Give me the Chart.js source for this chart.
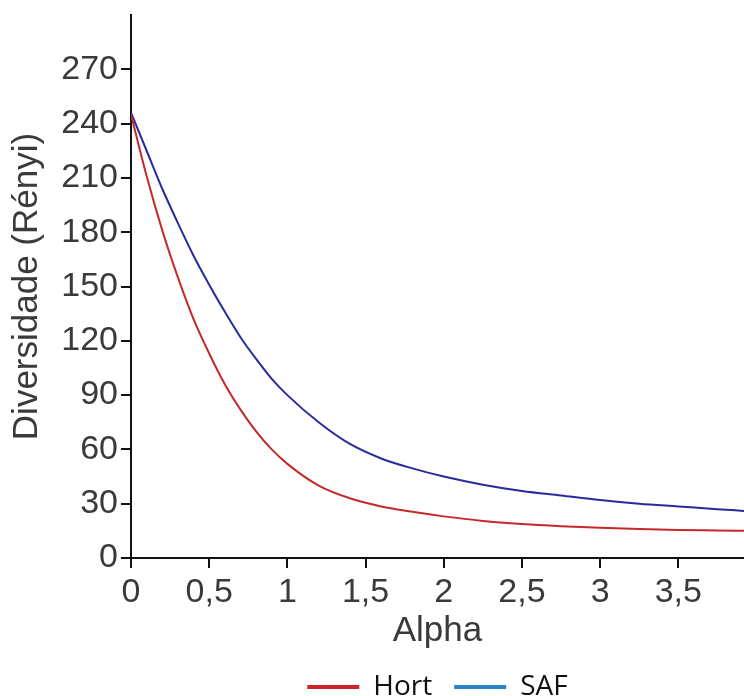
<!DOCTYPE html>
<html>
<head>
<meta charset="utf-8">
<script src="https://cdn.jsdelivr.net/npm/chart.js@4"></script>
<style>
  html, body { margin: 0; padding: 0; background: #fff; }
  #wrap { width: 744px; height: 696px; }
</style>
</head>
<body>
<div id="wrap"><canvas id="c" width="744" height="696"></canvas></div>
<script>
const alphaValues = [0, 0.1, 0.2, 0.3, 0.4, 0.5, 0.6, 0.7, 0.8, 0.9, 1.0, 1.2, 1.4, 1.6, 1.8, 2.0, 2.25, 2.5, 2.75, 3.0, 3.25, 3.5, 3.75, 3.92];
const hortValues  = [245, 211, 181, 155, 132, 113, 96, 82, 70, 60, 52, 40, 33, 28.5, 25.5, 23, 20.5, 18.8, 17.6, 16.7, 16, 15.5, 15.2, 15];
const safValues   = [246, 225, 204, 185, 167, 151, 136, 122, 110, 99, 90, 75, 63, 55, 49.5, 45, 40.5, 37, 34.5, 32, 30, 28.5, 27, 26];
const seriesNames = ['Hort', 'SAF'];
const xTickValues = [0, 0.5, 1, 1.5, 2, 2.5, 3, 3.5];
const yTickValues = [0, 30, 60, 90, 120, 150, 180, 210, 240, 270];
const xTitle = 'Alpha';
const yTitle = 'Diversidade (Rényi)';

const lineColors = ['#c42a2a', '#2a2a9e'];
const legendColors = ['#d0222c', '#2a82c4'];

const toPoints = (vals) => vals.map((v, i) => ({ x: alphaValues[i], y: v }));

const tickFont = { family: 'Liberation Sans, Arial, sans-serif', size: 34 };
const titleFont = { family: 'Liberation Sans, Arial, sans-serif', size: 35 };
const textColor = '#3a3a3a';

new Chart(document.getElementById('c'), {
  type: 'line',
  data: {
    datasets: [
      { label: seriesNames[0], data: toPoints(hortValues), borderColor: lineColors[0], backgroundColor: legendColors[0], borderWidth: 2, pointRadius: 0, cubicInterpolationMode: 'monotone', fill: false },
      { label: seriesNames[1], data: toPoints(safValues), borderColor: lineColors[1], backgroundColor: legendColors[1], borderWidth: 2, pointRadius: 0, cubicInterpolationMode: 'monotone', fill: false }
    ]
  },
  options: {
    responsive: false,
    animation: false,
    devicePixelRatio: 1,
    layout: { padding: { top: 15, right: 0, left: 0, bottom: -15 } },
    plugins: {
      tooltip: { enabled: false },
      legend: {
        position: 'bottom',
        fullSize: false,
        labels: {
          font: { family: 'Open Sans, sans-serif', size: 28 },
          color: '#111',
          boxWidth: 52,
          boxHeight: 4,
          padding: 22,
          generateLabels(chart) {
            return chart.data.datasets.map((ds, i) => ({
              text: ds.label,
              fillStyle: legendColors[i],
              strokeStyle: legendColors[i],
              lineWidth: 0,
              hidden: false,
              datasetIndex: i,
              fontColor: '#111'
            }));
          }
        }
      }
    },
    scales: {
      x: {
        type: 'linear',
        min: 0,
        max: 3.92,
        afterBuildTicks(scale) { scale.ticks = xTickValues.map(v => ({ value: v })); },
        afterFit(scale) { scale.height = 93; },
        border: { color: '#111', width: 2 },
        grid: { drawOnChartArea: false, drawTicks: true, tickLength: 10, color: '#111', lineWidth: 2 },
        ticks: {
          font: tickFont,
          color: textColor,
          padding: 4,
          maxRotation: 0,
          autoSkip: false,
          callback: (v) => String(v).replace('.', ',')
        },
        title: { display: true, text: xTitle, font: titleFont, color: textColor, padding: { top: 0, bottom: -1 } }
      },
      y: {
        type: 'linear',
        min: 0,
        max: 300,
        afterBuildTicks(scale) { scale.ticks = yTickValues.map(v => ({ value: v })); },
        afterFit(scale) { scale.width = 131; scale.paddingTop = 0; },
        border: { color: '#111', width: 2 },
        grid: { drawOnChartArea: false, drawTicks: true, tickLength: 10, color: '#111', lineWidth: 2 },
        ticks: { font: tickFont, color: textColor, padding: 3, autoSkip: false },
        title: { display: true, text: yTitle, font: titleFont, color: textColor, padding: { top: 6, bottom: 0 } }
      }
    }
  }
});
</script>
</body>
</html>
